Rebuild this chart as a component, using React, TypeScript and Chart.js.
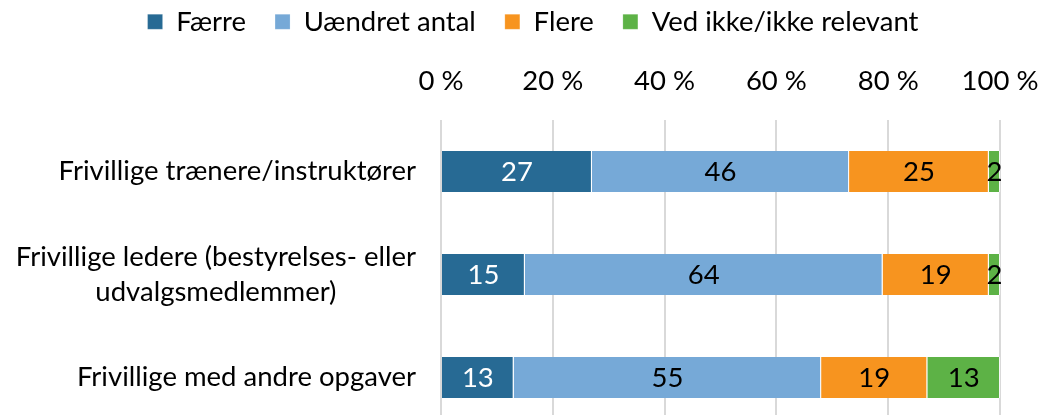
import React, { useEffect, useRef } from 'react';
import { Chart, registerables } from 'chart.js';

Chart.register(...registerables);

const categories: (string | string[])[] = [
  'Frivillige trænere/instruktører',
  ['Frivillige ledere (bestyrelses- eller', 'udvalgsmedlemmer)'],
  'Frivillige med andre opgaver',
];
const seriesNames = ['Færre', 'Uændret antal', 'Flere', 'Ved ikke/ikke relevant'];
const faerre = [27, 15, 13];
const uaendret = [46, 64, 55];
const flere = [25, 19, 19];
const vedIkke = [2, 2, 13];
const xTicks = [0, 20, 40, 60, 80, 100];

const colors = ['#276A94', '#76A9D7', '#F7941F', '#5DB246'];
const labelColors = ['#FFFFFF', '#000000', '#000000', '#000000'];
const FONT = 'Lato, "Noto Sans", sans-serif';
const FS = 27.5;

const dataLabelPlugin = {
  id: 'dataLabels',
  afterDatasetsDraw(chart: any) {
    const ctx = chart.ctx;
    ctx.save();
    ctx.font = `${FS}px ${FONT}`;
    ctx.textAlign = 'center';
    ctx.textBaseline = 'middle';
    chart.data.datasets.forEach((ds: any, di: number) => {
      const meta = chart.getDatasetMeta(di);
      meta.data.forEach((el: any, i: number) => {
        const v = ds.data[i];
        const { x, y, base } = el.getProps(['x', 'y', 'base'], true);
        ctx.fillStyle = labelColors[di];
        ctx.fillText(String(v), (x + base) / 2, y + 1);
      });
    });
    ctx.restore();
  },
};

const categoryLabelPlugin = {
  id: 'categoryLabels',
  afterDraw(chart: any) {
    const ctx = chart.ctx;
    const yScale = chart.scales.y;
    const right = chart.chartArea.left - 25;
    const lh = 35;
    ctx.save();
    ctx.font = `${FS}px ${FONT}`;
    ctx.fillStyle = '#000000';
    ctx.textAlign = 'center';
    ctx.textBaseline = 'middle';
    (chart.data.labels as (string | string[])[]).forEach((lab, i) => {
      const lines = Array.isArray(lab) ? lab : [lab];
      const widest = Math.max(...lines.map((l) => ctx.measureText(l).width));
      const cx = right - widest / 2;
      const cy = yScale.getPixelForValue(i);
      lines.forEach((l, j) => {
        ctx.fillText(l, cx, cy + (j - (lines.length - 1) / 2) * lh);
      });
    });
    ctx.restore();
  },
};

export default function App() {
  const ref = useRef<HTMLCanvasElement | null>(null);

  useEffect(() => {
    if (!ref.current) return;
    const series = [faerre, uaendret, flere, vedIkke];
    const chart = new Chart(ref.current, {
      type: 'bar',
      data: {
        labels: categories as any,
        datasets: series.map((d, i) => ({
          label: seriesNames[i],
          data: d,
          backgroundColor: colors[i],
          borderColor: 'rgba(255,255,255,0.75)',
          borderWidth: { top: 0, bottom: 0, left: 0, right: 1 },
          borderSkipped: false,
          categoryPercentage: 0.4,
          barPercentage: 1,
        })),
      },
      options: {
        indexAxis: 'y',
        responsive: false,
        animation: false,
        layout: { padding: { top: -21, left: 25, right: 0, bottom: 3 } },
        plugins: {
          legend: {
            position: 'top',
            labels: {
              font: { family: FONT, size: FS },
              color: '#000000',
              boxWidth: 15,
              boxHeight: 15,
              padding: 29,
            },
          },
          tooltip: { enabled: false },
        },
        scales: {
          x: {
            position: 'top',
            stacked: true,
            min: 0,
            max: 100,
            afterBuildTicks: (scale: any) => {
              scale.ticks = xTicks.map((v) => ({ value: v }));
            },
            ticks: {
              callback: (v: any) => `${v} %`,
              font: { family: FONT, size: FS },
              color: '#000000',
              padding: 22,
              maxRotation: 0,
            },
            grid: { color: '#D9D9D9', lineWidth: 2, drawTicks: false },
            border: { display: false },
            afterFit: (s: any) => {
              s.height = 74.5;
              s.paddingRight = 41;
            },
          },
          y: {
            stacked: true,
            ticks: { display: false },
            grid: { display: false },
            border: { display: false },
            afterFit: (s: any) => {
              s.width = 416;
            },
          },
        },
      } as any,
      plugins: [dataLabelPlugin, categoryLabelPlugin],
    });
    return () => chart.destroy();
  }, []);

  return (
    <div
      style={{
        position: 'absolute',
        left: 0,
        top: 0,
        width: 1041,
        height: 415,
        overflow: 'hidden',
        background: '#ffffff',
      }}
    >
      <canvas ref={ref} width={1041} height={432} style={{ display: 'block' }} />
    </div>
  );
}
